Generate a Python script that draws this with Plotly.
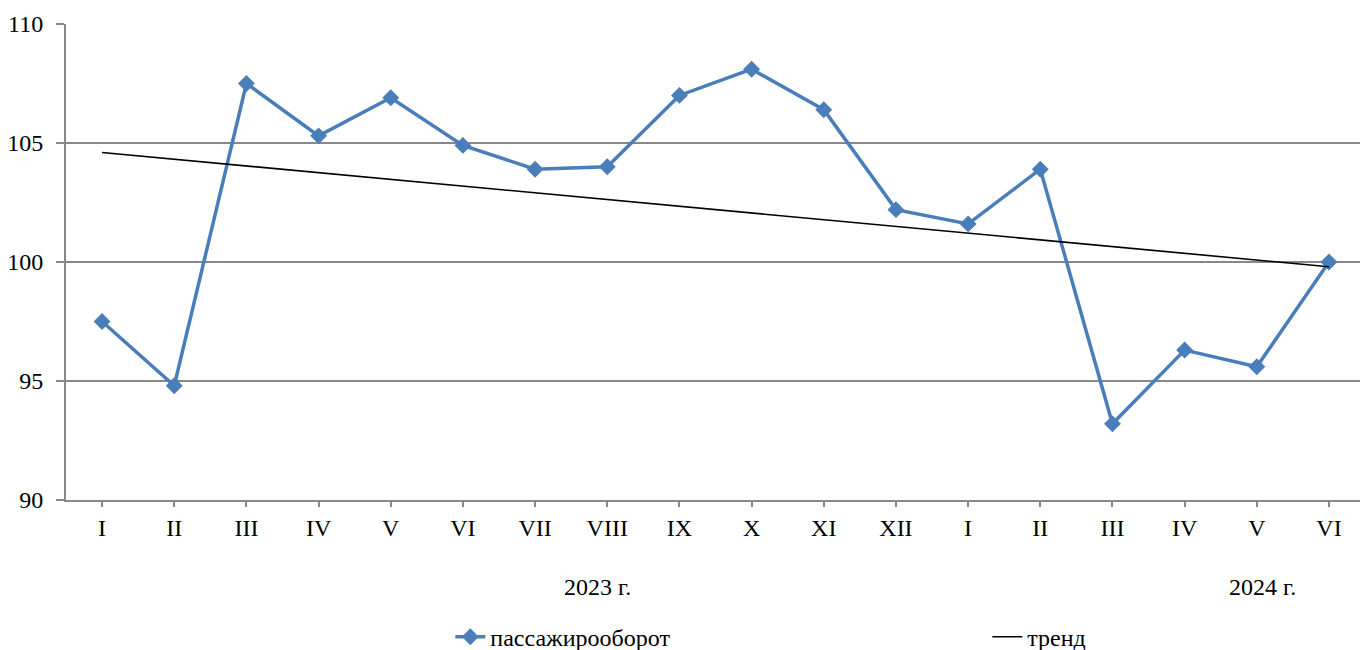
import plotly.graph_objects as go

months = ["I", "II", "III", "IV", "V", "VI", "VII", "VIII", "IX", "X", "XI", "XII",
          "I", "II", "III", "IV", "V", "VI"]
passenger = [97.5, 94.8, 107.5, 105.3, 106.9, 104.9, 103.9, 104.0, 107.0, 108.1,
             106.4, 102.2, 101.6, 103.9, 93.2, 96.3, 95.6, 100.0]
trend_ends = [104.6, 99.8]
years = ["2023 г.", "2024 г."]
year_pos = [6.87, 16.08]

x_idx = list(range(len(months)))
font = "Liberation Serif, Times New Roman, serif"
grid = "#888888"
fs = 24

fig = go.Figure()
fig.add_trace(go.Scatter(
    x=x_idx, y=passenger, mode="lines+markers", name="пассажирооборот",
    line=dict(color="#4A7EBB", width=3.5),
    marker=dict(symbol="diamond", size=13, color="#4A7EBB"),
    legend="legend",
))
fig.add_trace(go.Scatter(
    x=[x_idx[0], x_idx[-1]], y=trend_ends, mode="lines", name="тренд",
    line=dict(color="black", width=1.6),
    legend="legend2",
))

for t, p in zip(years, year_pos):
    fig.add_annotation(x=p, y=0, xref="x", yref="paper", yshift=-87, text=t,
                       showarrow=False, font=dict(family=font, size=fs, color="black"),
                       xanchor="center", yanchor="middle")

leg_common = dict(orientation="h", y=-0.288, xanchor="left", yanchor="middle",
                  bgcolor="rgba(0,0,0,0)",
                  font=dict(family=font, size=fs, color="black"))

fig.update_layout(
    width=1360, height=650,
    margin=dict(l=66, r=0, t=24, b=150, autoexpand=False),
    plot_bgcolor="white", paper_bgcolor="white",
    font=dict(family=font, size=fs, color="black"),
    showlegend=True,
    legend=dict(x=0.297, **leg_common),
    legend2=dict(x=0.712, **leg_common),
    xaxis=dict(range=[-0.5, 17.43], tickvals=x_idx, ticktext=months,
               showgrid=False, zeroline=False, showline=True, linecolor=grid, linewidth=2,
               ticks="outside", ticklen=5, tickcolor=grid, tickwidth=1.5,
               tickfont=dict(family=font, size=fs, color="black")),
    yaxis=dict(range=[90, 110], tickvals=[90, 95, 100, 105, 110],
               showgrid=True, gridcolor=grid, gridwidth=1.5, zeroline=False,
               showline=True, linecolor=grid, linewidth=2,
               ticks="outside", ticklen=8, tickcolor=grid, tickwidth=1.5,
               ticklabelstandoff=8,
               tickfont=dict(family=font, size=fs, color="black")),
)

fig.write_html("out.html", config={"displayModeBar": False},
               post_script="document.body.style.margin='0';")
